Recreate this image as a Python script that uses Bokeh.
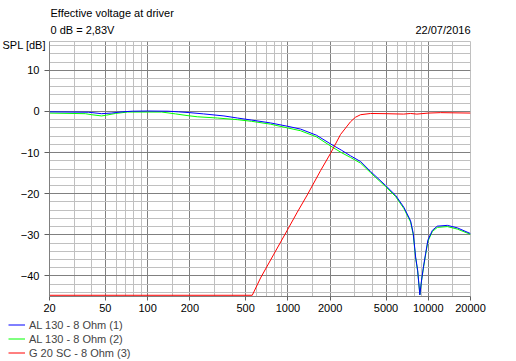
from bokeh.plotting import figure
from bokeh.layouts import column
from bokeh.models import (FixedTicker, NumeralTickFormatter, Label, Legend,
                          LegendItem, Range1d)
from bokeh.embed import file_html
from bokeh.resources import INLINE

# ---- data ----
freq_1 = [20, 38, 47, 55, 66, 78, 100, 140, 166, 200, 250, 350, 436, 550, 752,
          990, 1232, 1600, 2012, 2400, 2795, 3300, 3881, 4966, 5850, 6700,
          7483, 7820, 8128, 8400, 8714, 8960, 9240, 9572, 9940, 10700, 11600,
          13670, 16100, 20000]
spl_1 = [-0.1, -0.2, -0.55, -0.4, -0.1, 0.05, 0.1, 0.05, -0.1, -0.3, -0.6,
         -1.1, -1.6, -2.1, -2.8, -3.6, -4.3, -5.8, -7.9, -9.4, -10.8, -12.2,
         -14.6, -18.0, -20.4, -23.3, -26.6, -29.7, -35.4, -38.6, -44.6, -41.0,
         -37.8, -34.6, -31.3, -28.9, -27.9, -27.7, -28.3, -29.7]

freq_2 = [20, 36, 40, 47, 51, 59, 72, 126, 158, 191, 226, 314, 436, 550, 752,
          990, 1232, 1600, 2012, 2400, 2795, 3300, 3881, 4966, 5850, 6700,
          7483, 7820, 8128, 8400, 8714, 8960, 9240, 9572, 9940, 10700, 11600,
          13670, 16100, 20000]
spl_2 = [-0.4, -0.55, -0.8, -1.1, -0.9, -0.5, -0.15, -0.15, -0.6, -1.0, -1.3,
         -1.6, -2.0, -2.4, -3.1, -4.0, -4.7, -6.2, -8.4, -10.0, -11.2, -12.6,
         -14.9, -18.3, -20.7, -23.6, -26.9, -30.0, -35.6, -38.8, -44.6, -41.2,
         -38.1, -34.9, -31.6, -29.2, -28.2, -28.0, -28.6, -29.9]

freq_3 = [20, 557, 638, 794, 989, 1166, 1374, 1708, 2012, 2372, 2795, 3034,
          3294, 3881, 5000, 6670, 7483, 8300, 10000, 12240, 20000]
spl_3 = [-44.7, -44.7, -40.5, -34.7, -28.9, -24.5, -20.3, -14.4, -10.2, -5.6,
         -2.5, -1.4, -0.8, -0.5, -0.55, -0.65, -0.5, -0.65, -0.4, -0.3, -0.4]

series_names = ["AL 130 - 8 Ohm (1)", "AL 130 - 8 Ohm (2)", "G 20 SC - 8 Ohm (3)"]
series_colors = ["#0000ff", "#00ff00", "#ff0000"]

x_major = [20, 50, 100, 200, 500, 1000, 2000, 5000, 10000, 20000]
x_minor = [30, 40, 60, 70, 80, 90, 150, 300, 400, 600, 700, 800, 900, 1500,
           3000, 4000, 6000, 7000, 8000, 9000, 15000]
y_major = [-40, -30, -20, -10, 0, 10]
y_minor = [-44, -42, -38, -36, -34, -32, -28, -26, -24, -22, -18, -16, -14,
           -12, -8, -6, -4, -2, 2, 4, 6, 8, 12, 14, 16]

title_text = "Effective voltage at driver"
ref_text = "0 dB = 2,83V"
date_text = "22/07/2016"
y_title = "SPL [dB]"

FONT = "Liberation Sans"
FS = "11px"
SLOT = 12  # height of one label slot in a side panel

p = figure(width=516, height=318, x_axis_type="log",
           x_range=Range1d(20, 20000), y_range=Range1d(-45, 17),
           output_backend="svg", toolbar_location=None,
           min_border_left=49, min_border_right=46,
           min_border_top=41, min_border_bottom=22)
p.background_fill_color = "white"
p.border_fill_color = "white"
p.outline_line_color = "#c0c0c0"

for ax, maj, mino in ((p.xaxis[0], x_major, x_minor), (p.yaxis[0], y_major, y_minor)):
    ax.ticker = FixedTicker(ticks=maj, minor_ticks=mino)
    ax.axis_line_color = "#808080"
    ax.major_tick_line_color = "#606060"
    ax.major_tick_in = 0
    ax.major_tick_out = 5
    ax.minor_tick_in = 0
    ax.minor_tick_out = 0
    ax.major_label_text_font = FONT
    ax.major_label_text_font_size = FS
    ax.major_label_text_color = "black"
p.xaxis.formatter = NumeralTickFormatter(format="0")
p.xaxis.major_tick_out = 4
p.xaxis.major_label_standoff = 3
p.yaxis.major_label_standoff = 5

for g in (p.xgrid, p.ygrid):
    g.grid_line_color = "#808080"
    g.minor_grid_line_color = "#c0c0c0"

r2 = p.line(freq_2, spl_2, line_color=series_colors[1], line_width=1)
r1 = p.line(freq_1, spl_1, line_color=series_colors[0], line_width=1)
r3 = p.line(freq_3, spl_3, line_color=series_colors[2], line_width=1)

def lab(txt, x, y, side, align="left"):
    p.add_layout(Label(x=x, y=y, x_units="screen", y_units="screen", text=txt,
                       text_font=FONT, text_font_size=FS, text_color="black",
                       text_align=align, text_baseline="middle"), side)

# above panel: slots stacked outward from the frame top (y = 41 px)
lab(title_text, 1, 41 - 12, "above")
lab(ref_text, 1, (41 - SLOT) - 29, "above")
lab(date_text, 421, (41 - 2 * SLOT) - 29, "above", "right")
# right panel: x from frame right (470 px), y up from frame bottom (296 px)
lab(y_title, 2 - 470, 296 - 44.5, "right")

# legend strip below the chart
lf = figure(width=516, height=43, x_range=Range1d(0, 1), y_range=Range1d(0, 1),
            output_backend="svg", toolbar_location=None,
            x_axis_location=None, y_axis_location=None,
            min_border_left=0, min_border_right=0,
            min_border_top=0, min_border_bottom=0)
lf.outline_line_color = None
lf.grid.visible = False
lf.background_fill_color = "white"
lf.border_fill_color = "white"
l1 = lf.line(freq_1, spl_1, line_color=series_colors[0], line_width=1)
l2 = lf.line(freq_2, spl_2, line_color=series_colors[1], line_width=1)
l3 = lf.line(freq_3, spl_3, line_color=series_colors[2], line_width=1)
legend = Legend(items=[LegendItem(label=series_names[0], renderers=[l1]),
                       LegendItem(label=series_names[1], renderers=[l2]),
                       LegendItem(label=series_names[2], renderers=[l3])],
                location=(8, 2), orientation="vertical",
                padding=0, margin=0, spacing=1, label_height=13,
                glyph_height=13, glyph_width=17, label_standoff=4,
                label_text_font=FONT, label_text_font_size=FS,
                border_line_color=None, background_fill_alpha=0)
lf.add_layout(legend, "center")

# keep each plot's own frame (no cross-plot frame alignment in the column)
p.frame_align = False
lf.frame_align = False

layout = column(p, lf, spacing=0)
open("out.html", "w").write(file_html(layout, INLINE))
